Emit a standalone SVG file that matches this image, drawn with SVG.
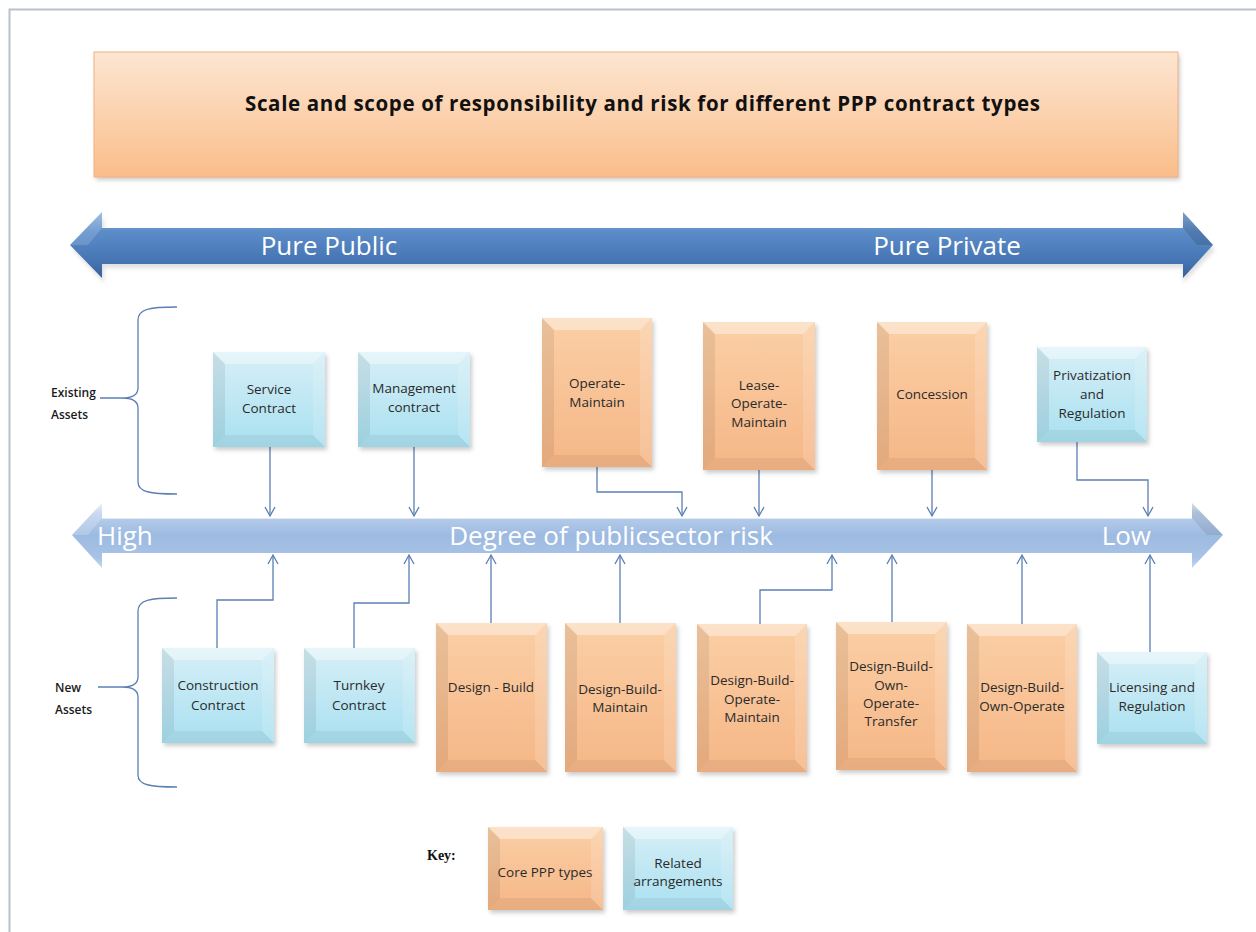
<svg xmlns="http://www.w3.org/2000/svg" width="1256" height="932" viewBox="0 0 1256 932">
<defs>
<linearGradient id="og" x1="0" y1="0" x2="0" y2="1"><stop offset="0" stop-color="#fbcfa6"/><stop offset="1" stop-color="#f5b686"/></linearGradient>
<linearGradient id="bg" x1="0" y1="0" x2="0" y2="1"><stop offset="0" stop-color="#d6eff7"/><stop offset="1" stop-color="#a9e0f0"/></linearGradient>
<linearGradient id="tg" x1="0" y1="0" x2="0" y2="1"><stop offset="0" stop-color="#fde6d2"/><stop offset="1" stop-color="#fabd8a"/></linearGradient>
<linearGradient id="dg" x1="0" y1="0" x2="0" y2="1"><stop offset="0" stop-color="#8fb4e0"/><stop offset="0.3" stop-color="#5b8cc8"/><stop offset="0.75" stop-color="#4674b3"/><stop offset="1" stop-color="#375f99"/></linearGradient>
<linearGradient id="lg" x1="0" y1="0" x2="0" y2="1"><stop offset="0" stop-color="#e8f0fa"/><stop offset="0.15" stop-color="#bcd1ec"/><stop offset="0.5" stop-color="#9dbae1"/><stop offset="0.85" stop-color="#a8c3e6"/><stop offset="1" stop-color="#c6d8ef"/></linearGradient>
<filter id="sh" x="-10%" y="-10%" width="130%" height="130%"><feGaussianBlur stdDeviation="2"/></filter>
<marker id="ar" viewBox="-1 -6 12 12" markerWidth="12" markerHeight="12" refX="9" refY="0" orient="auto" markerUnits="userSpaceOnUse"><path d="M0,-5 L9,0 L0,5" fill="none" stroke="#5b7fb5" stroke-width="1.3"/></marker>
</defs>
<style>
.sh{fill:#000;fill-opacity:.2;filter:url(#sh)}
.o{fill:url(#og)}
.b{fill:url(#bg)}
.bt{fill:#fff;fill-opacity:.4}
.bl{fill:#000;fill-opacity:.07}
.br{fill:#fff;fill-opacity:.15}
.bb{fill:#000;fill-opacity:.05}
.t{font-family:"Open Sans","Liberation Sans",sans-serif;font-size:13.5px;fill:#2a2a2a;text-anchor:middle}
.lab{font-family:"Open Sans","Liberation Sans",sans-serif;font-size:12px;font-weight:600;fill:#1a1a1a}
.big{font-family:"Open Sans","Liberation Sans",sans-serif;font-size:26px;fill:#fff}
.c{fill:none;stroke:#5b7fb5;stroke-width:1.3}
.ca{fill:none;stroke:#5b7fb5;stroke-width:1.3;marker-end:url(#ar)}
</style>
<rect width="1256" height="932" fill="#fff"/>
<path d="M9.5,932 L9.5,9.5 L1256,9.5" fill="none" stroke="#b9c1cc" stroke-width="2"/>

<g id="title">
<rect class="sh" x="96" y="55" width="1084" height="125"/>
<rect x="94" y="52" width="1084" height="125" fill="url(#tg)" stroke="#f4b183" stroke-width="1"/>
<text x="245" y="111" textLength="795" lengthAdjust="spacing" font-family="'Open Sans','Liberation Sans',sans-serif" font-size="20.5" font-weight="bold" fill="#111">Scale and scope of responsibility and risk for different PPP contract types</text>
</g>

<g id="top-arrow">
<polygon points="73,250 104,217 104,233 1183,233 1183,217 1215,250 1183,283 1183,268 104,268 104,283" fill="#000" fill-opacity=".12" filter="url(#sh)"/>
<polygon points="70,245 102,212 102,228 1183,228 1183,212 1213,245 1183,278 1183,264 102,264 102,278" fill="url(#dg)"/>
<polygon points="70,245 102,212 102,228 88,245" fill="#fff" fill-opacity=".15"/>
<polygon points="1213,245 1183,212 1183,228 1197,245" fill="#000" fill-opacity=".12"/>
<text class="big" x="329" y="255" text-anchor="middle">Pure Public</text>
<text class="big" x="947" y="255" text-anchor="middle">Pure Private</text>
</g>

<g id="risk-arrow">
<polygon points="72,535 102,503 102,518 1192,518 1192,503 1223,535 1192,568 1192,553 102,553 102,568" fill="url(#lg)"/>
<polygon points="72,535 102,503 102,518 88,535" fill="#fff" fill-opacity=".2"/>
<polygon points="1223,535 1192,503 1192,518 1207,535" fill="#000" fill-opacity=".08"/>
<line x1="102" y1="518.5" x2="1192" y2="518.5" stroke="#dfe9f6" stroke-width="1"/>
<text class="big" x="97" y="545">High</text>
<text class="big" x="611" y="545" text-anchor="middle">Degree of publicsector risk</text>
<text class="big" x="1151" y="545" text-anchor="end">Low</text>
</g>

<g id="existing-assets">
<path class="c" d="M177,307 C150,307 138,309 138,320 L138,388 C138,396 130,398 122,398 C130,398 138,400 138,408 L138,482 C138,492 150,494 177,494 M100,398 L122,398"/>
<text class="lab" x="51" y="397">Existing</text>
<text class="lab" x="51" y="419">Assets</text>
</g>
<g id="new-assets">
<path class="c" d="M177,598 C150,598 138,600 138,611 L138,677 C138,685 130,687 122,687 C130,687 138,689 138,697 L138,775 C138,785 150,787 177,787 M98,687 L122,687"/>
<text class="lab" x="55" y="692">New</text>
<text class="lab" x="55" y="714">Assets</text>
</g>

<g id="connectors">
<path class="ca" d="M270,447 L270,516"/>
<path class="ca" d="M414,447 L414,516"/>
<path class="ca" d="M597,467 L597,492 L682,492 L682,516"/>
<path class="ca" d="M759,470 L759,516"/>
<path class="ca" d="M932,470 L932,516"/>
<path class="ca" d="M1077,442 L1077,480 L1148,480 L1148,516"/>
<path class="ca" d="M217,648 L217,600 L273,600 L273,555"/>
<path class="ca" d="M354,648 L354,603 L409,603 L409,555"/>
<path class="ca" d="M491,623 L491,555"/>
<path class="ca" d="M620,623 L620,555"/>
<path class="ca" d="M760,624 L760,590 L832,590 L832,555"/>
<path class="ca" d="M892,622 L892,555"/>
<path class="ca" d="M1022,624 L1022,555"/>
<path class="ca" d="M1150,652 L1150,555"/>
</g>

<g id="service-contract">
<rect class="sh" x="215" y="355" width="112" height="95"/>
<rect class="b" x="213" y="352" width="112" height="95"/>
<polygon class="bt" points="213,352 325,352 313,364 225,364"/>
<polygon class="bl" points="213,352 225,364 225,435 213,447"/>
<polygon class="br" points="325,352 325,447 313,435 313,364"/>
<polygon class="bb" points="213,447 225,435 313,435 325,447"/>
<text class="t" x="269" y="394">Service</text><text class="t" x="269" y="413">Contract</text>
</g>
<g id="management-contract">
<rect class="sh" x="360" y="355" width="112" height="95"/>
<rect class="b" x="358" y="352" width="112" height="95"/>
<polygon class="bt" points="358,352 470,352 458,364 370,364"/>
<polygon class="bl" points="358,352 370,364 370,435 358,447"/>
<polygon class="br" points="470,352 470,447 458,435 458,364"/>
<polygon class="bb" points="358,447 370,435 458,435 470,447"/>
<text class="t" x="414" y="393">Management</text><text class="t" x="414" y="412">contract</text>
</g>
<g id="operate-maintain">
<rect class="sh" x="544" y="321" width="110" height="149"/>
<rect class="o" x="542" y="318" width="110" height="149"/>
<polygon class="bt" points="542,318 652,318 640,330 554,330"/>
<polygon class="bl" points="542,318 554,330 554,455 542,467"/>
<polygon class="br" points="652,318 652,467 640,455 640,330"/>
<polygon class="bb" points="542,467 554,455 640,455 652,467"/>
<text class="t" x="597" y="388">Operate-</text><text class="t" x="597" y="407">Maintain</text>
</g>
<g id="lease-operate-maintain">
<rect class="sh" x="705" y="325" width="112" height="148"/>
<rect class="o" x="703" y="322" width="112" height="148"/>
<polygon class="bt" points="703,322 815,322 803,334 715,334"/>
<polygon class="bl" points="703,322 715,334 715,458 703,470"/>
<polygon class="br" points="815,322 815,470 803,458 803,334"/>
<polygon class="bb" points="703,470 715,458 803,458 815,470"/>
<text class="t" x="759" y="390">Lease-</text><text class="t" x="759" y="408">Operate-</text><text class="t" x="759" y="427">Maintain</text>
</g>
<g id="concession">
<rect class="sh" x="879" y="325" width="110" height="148"/>
<rect class="o" x="877" y="322" width="110" height="148"/>
<polygon class="bt" points="877,322 987,322 975,334 889,334"/>
<polygon class="bl" points="877,322 889,334 889,458 877,470"/>
<polygon class="br" points="987,322 987,470 975,458 975,334"/>
<polygon class="bb" points="877,470 889,458 975,458 987,470"/>
<text class="t" x="932" y="399">Concession</text>
</g>
<g id="privatization-regulation">
<rect class="sh" x="1039" y="350" width="110" height="95"/>
<rect class="b" x="1037" y="347" width="110" height="95"/>
<polygon class="bt" points="1037,347 1147,347 1135,359 1049,359"/>
<polygon class="bl" points="1037,347 1049,359 1049,430 1037,442"/>
<polygon class="br" points="1147,347 1147,442 1135,430 1135,359"/>
<polygon class="bb" points="1037,442 1049,430 1135,430 1147,442"/>
<text class="t" x="1092" y="380">Privatization</text><text class="t" x="1092" y="399">and</text><text class="t" x="1092" y="418">Regulation</text>
</g>

<g id="construction-contract">
<rect class="sh" x="164" y="651" width="112" height="95"/>
<rect class="b" x="162" y="648" width="112" height="95"/>
<polygon class="bt" points="162,648 274,648 262,660 174,660"/>
<polygon class="bl" points="162,648 174,660 174,731 162,743"/>
<polygon class="br" points="274,648 274,743 262,731 262,660"/>
<polygon class="bb" points="162,743 174,731 262,731 274,743"/>
<text class="t" x="218" y="690">Construction</text><text class="t" x="218" y="710">Contract</text>
</g>
<g id="turnkey-contract">
<rect class="sh" x="306" y="651" width="111" height="95"/>
<rect class="b" x="304" y="648" width="111" height="95"/>
<polygon class="bt" points="304,648 415,648 403,660 316,660"/>
<polygon class="bl" points="304,648 316,660 316,731 304,743"/>
<polygon class="br" points="415,648 415,743 403,731 403,660"/>
<polygon class="bb" points="304,743 316,731 403,731 415,743"/>
<text class="t" x="359" y="690">Turnkey</text><text class="t" x="359" y="710">Contract</text>
</g>
<g id="design-build">
<rect class="sh" x="438" y="626" width="111" height="149"/>
<rect class="o" x="436" y="623" width="111" height="149"/>
<polygon class="bt" points="436,623 547,623 535,635 448,635"/>
<polygon class="bl" points="436,623 448,635 448,760 436,772"/>
<polygon class="br" points="547,623 547,772 535,760 535,635"/>
<polygon class="bb" points="436,772 448,760 535,760 547,772"/>
<text class="t" x="491" y="692">Design - Build</text>
</g>
<g id="design-build-maintain">
<rect class="sh" x="567" y="626" width="111" height="149"/>
<rect class="o" x="565" y="623" width="111" height="149"/>
<polygon class="bt" points="565,623 676,623 664,635 577,635"/>
<polygon class="bl" points="565,623 577,635 577,760 565,772"/>
<polygon class="br" points="676,623 676,772 664,760 664,635"/>
<polygon class="bb" points="565,772 577,760 664,760 676,772"/>
<text class="t" x="620" y="694">Design-Build-</text><text class="t" x="620" y="712">Maintain</text>
</g>
<g id="design-build-operate-maintain">
<rect class="sh" x="699" y="627" width="110" height="148"/>
<rect class="o" x="697" y="624" width="110" height="148"/>
<polygon class="bt" points="697,624 807,624 795,636 709,636"/>
<polygon class="bl" points="697,624 709,636 709,760 697,772"/>
<polygon class="br" points="807,624 807,772 795,760 795,636"/>
<polygon class="bb" points="697,772 709,760 795,760 807,772"/>
<text class="t" x="752" y="685">Design-Build-</text><text class="t" x="752" y="704">Operate-</text><text class="t" x="752" y="722">Maintain</text>
</g>
<g id="design-build-own-operate-transfer">
<rect class="sh" x="838" y="625" width="111" height="148"/>
<rect class="o" x="836" y="622" width="111" height="148"/>
<polygon class="bt" points="836,622 947,622 935,634 848,634"/>
<polygon class="bl" points="836,622 848,634 848,758 836,770"/>
<polygon class="br" points="947,622 947,770 935,758 935,634"/>
<polygon class="bb" points="836,770 848,758 935,758 947,770"/>
<text class="t" x="891" y="671">Design-Build-</text><text class="t" x="891" y="690">Own-</text><text class="t" x="891" y="708">Operate-</text><text class="t" x="891" y="726">Transfer</text>
</g>
<g id="design-build-own-operate">
<rect class="sh" x="969" y="627" width="110" height="148"/>
<rect class="o" x="967" y="624" width="110" height="148"/>
<polygon class="bt" points="967,624 1077,624 1065,636 979,636"/>
<polygon class="bl" points="967,624 979,636 979,760 967,772"/>
<polygon class="br" points="1077,624 1077,772 1065,760 1065,636"/>
<polygon class="bb" points="967,772 979,760 1065,760 1077,772"/>
<text class="t" x="1022" y="692">Design-Build-</text><text class="t" x="1022" y="711">Own-Operate</text>
</g>
<g id="licensing-regulation">
<rect class="sh" x="1099" y="655" width="110" height="92"/>
<rect class="b" x="1097" y="652" width="110" height="92"/>
<polygon class="bt" points="1097,652 1207,652 1195,664 1109,664"/>
<polygon class="bl" points="1097,652 1109,664 1109,732 1097,744"/>
<polygon class="br" points="1207,652 1207,744 1195,732 1195,664"/>
<polygon class="bb" points="1097,744 1109,732 1195,732 1207,744"/>
<text class="t" x="1152" y="692">Licensing and</text><text class="t" x="1152" y="711">Regulation</text>
</g>

<g id="key">
<text x="427" y="860" font-family="'Liberation Serif',serif" font-size="14" font-weight="bold" fill="#111">Key:</text>
</g>
<g id="key-core">
<rect class="sh" x="490" y="830" width="115" height="83"/>
<rect class="o" x="488" y="827" width="115" height="83"/>
<polygon class="bt" points="488,827 603,827 591,839 500,839"/>
<polygon class="bl" points="488,827 500,839 500,898 488,910"/>
<polygon class="br" points="603,827 603,910 591,898 591,839"/>
<polygon class="bb" points="488,910 500,898 591,898 603,910"/>
<text class="t" x="545" y="877">Core PPP types</text>
</g>
<g id="key-related">
<rect class="sh" x="625" y="830" width="110" height="83"/>
<rect class="b" x="623" y="827" width="110" height="83"/>
<polygon class="bt" points="623,827 733,827 721,839 635,839"/>
<polygon class="bl" points="623,827 635,839 635,898 623,910"/>
<polygon class="br" points="733,827 733,910 721,898 721,839"/>
<polygon class="bb" points="623,910 635,898 721,898 733,910"/>
<text class="t" x="678" y="868">Related</text><text class="t" x="678" y="886">arrangements</text>
</g>
</svg>
